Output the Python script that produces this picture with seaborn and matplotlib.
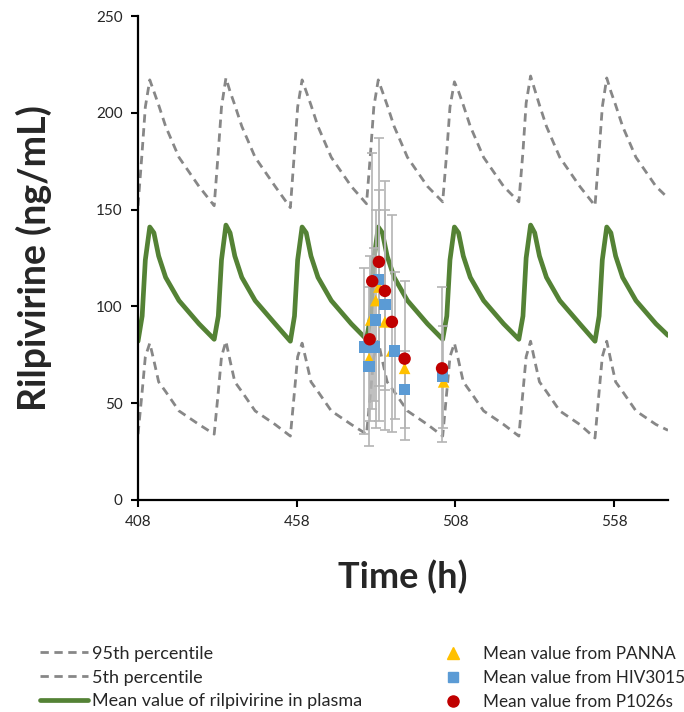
import matplotlib
matplotlib.use('Agg')
import matplotlib.pyplot as plt
import seaborn as sns
from matplotlib.lines import Line2D

# Simulated curves (time in h, concentration in ng/mL), one row per 24 h dosing interval
time_h = [
    408, 409.3, 410.3, 411.7, 413, 414.5, 416.7, 420.9, 427.2,
    432, 433.3, 434.3, 435.7, 437, 438.5, 440.7, 444.9, 451.2,
    456, 457.3, 458.3, 459.7, 461, 462.5, 464.7, 468.9, 475.2,
    480, 481.3, 482.3, 483.7, 485, 486.5, 488.7, 492.9, 499.2,
    504, 505.3, 506.3, 507.7, 509, 510.5, 512.7, 516.9, 523.2,
    528, 529.3, 530.3, 531.7, 533, 534.5, 536.7, 540.9, 547.2,
    552, 553.3, 554.3, 555.7, 557, 558.5, 560.7, 564.9, 571.2,
    575,
]
mean_conc = [
    82, 95, 124, 141, 138, 126, 115, 103, 91,
    83, 95, 124, 142, 138, 126, 115, 103, 91,
    82, 95, 124, 141, 138, 126, 115, 103, 91,
    83, 95, 124, 141, 138, 126, 115, 103, 91,
    83, 95, 124, 141, 138, 126, 115, 103, 91,
    83, 95, 125, 142, 138, 126, 115, 103, 91,
    82, 95, 124, 141, 138, 126, 115, 103, 91,
    85,
]
p95_conc = [
    152, 180, 203, 217, 211, 204, 193, 177, 162,
    152, 180, 203, 218, 211, 204, 193, 177, 162,
    151, 180, 203, 217, 211, 204, 193, 177, 162,
    153, 180, 203, 217, 211, 204, 193, 177, 162,
    154, 180, 203, 216, 211, 204, 193, 177, 162,
    154, 180, 205, 219, 212, 204, 193, 177, 162,
    152, 180, 203, 218, 211, 204, 193, 177, 162,
    156,
]
p5_conc = [
    34, 56, 74, 81, 72, 61, 56, 46, 39,
    34, 56, 74, 82, 72, 61, 56, 46, 39,
    33, 56, 74, 81, 72, 61, 56, 46, 39,
    34, 56, 74, 82, 72, 61, 56, 46, 39,
    33, 56, 74, 81, 72, 61, 56, 46, 39,
    33, 56, 74, 82, 72, 61, 56, 46, 39,
    32, 56, 74, 82, 72, 61, 56, 46, 39,
    36,
]

# Observed means
panna_t = [480.8, 481.3, 482.9, 483.9, 485.8, 487.9, 492.0, 504.3]
panna_c = [73, 93, 103, 110, 92, 77, 68, 61]

hiv_t = [479.3, 480.8, 482.4, 482.9, 483.9, 485.8, 488.9, 492.0, 504.0]
hiv_c = [79, 69, 79, 93, 114, 101, 77, 57, 64]
hiv_lo = [34, 28, 51, 37, 41, 36, 42, 37, 37]
hiv_hi = [120, 110, 130, 150, 187, 165, 118, 77, 90]

p1026_t = [481.0, 481.8, 483.9, 485.8, 488.0, 492.0, 503.8]
p1026_c = [83, 113, 123, 108, 92, 73, 68]
p1026_lo = [41, 47, 59, 57, 35, 31, 30]
p1026_hi = [126, 179, 160, 150, 147, 113, 110]

green = '#548235'
grey_dash = '#878787'
bar_grey = '#b4b4b4'
c_panna = '#ffc000'
c_hiv = '#5b9bd5'
c_p1026 = '#c00000'

sns.set_style('white')
plt.rcParams['font.family'] = ['Lato', 'DejaVu Sans']

fig = plt.figure(figsize=(6.84, 7.12), dpi=100)
ax = fig.add_axes([0.2018, 0.2978, 0.7748, 0.6797])

dash = (0, (3, 2))
sns.lineplot(x=time_h, y=p95_conc, ax=ax, color=grey_dash, lw=2, linestyle=dash, sort=False)
sns.lineplot(x=time_h, y=p5_conc, ax=ax, color=grey_dash, lw=2, linestyle=dash, sort=False)
sns.lineplot(x=time_h, y=mean_conc, ax=ax, color=green, lw=3.4, sort=False)

# error bars (asymmetric, from lower/upper bounds)
for t, c, lo, hi in [(hiv_t, hiv_c, hiv_lo, hiv_hi), (p1026_t, p1026_c, p1026_lo, p1026_hi)]:
    yerr = [[ci - l for ci, l in zip(c, lo)], [h - ci for ci, h in zip(c, hi)]]
    ax.errorbar(t, c, yerr=yerr, fmt='none', ecolor=bar_grey, elinewidth=1.2,
                capsize=3.5, capthick=1.2, zorder=3)

sns.scatterplot(x=panna_t, y=panna_c, ax=ax, marker='^', color=c_panna, s=70,
                edgecolor='none', zorder=4)
sns.scatterplot(x=hiv_t, y=hiv_c, ax=ax, marker='s', color=c_hiv, s=65,
                edgecolor='none', zorder=5)
sns.scatterplot(x=p1026_t, y=p1026_c, ax=ax, marker='o', color=c_p1026, s=80,
                edgecolor='none', zorder=6)

ax.set_xlim(408, 575)
ax.set_ylim(0, 250)
ax.set_xticks([408, 458, 508, 558])
ax.set_yticks([0, 50, 100, 150, 200, 250])
for side in ['top', 'right']:
    ax.spines[side].set_visible(False)
for side in ['left', 'bottom']:
    ax.spines[side].set_color('black')
    ax.spines[side].set_linewidth(1.6)
ax.tick_params(axis='both', direction='out', length=5, width=1.5, color='black',
               labelsize=11, labelcolor='#262626', pad=6, left=True, bottom=True)

ax.set_xlabel('Time (h)', fontsize=26, fontweight='bold', labelpad=22)
ax.set_ylabel('Rilpivirine (ng/mL)', fontsize=27, fontweight='bold', labelpad=32)

# legends
left_handles = [
    Line2D([], [], color=grey_dash, lw=2, linestyle=dash),
    Line2D([], [], color=grey_dash, lw=2, linestyle=dash),
    Line2D([], [], color=green, lw=3.4),
]
left_labels = ['95th percentile', '5th percentile', 'Mean value of rilpivirine in plasma']
fig.legend(left_handles, left_labels, loc='upper left', bbox_to_anchor=(0.058, 0.093),
           frameon=False, fontsize=13, handlelength=2.7, handletextpad=0.2,
           labelspacing=0.43, borderaxespad=0, borderpad=0)
right_handles = [
    Line2D([], [], color=c_panna, marker='^', linestyle='none', markersize=8),
    Line2D([], [], color=c_hiv, marker='s', linestyle='none', markersize=7),
    Line2D([], [], color=c_p1026, marker='o', linestyle='none', markersize=8),
]
right_labels = ['Mean value from PANNA', 'Mean value from HIV3015', 'Mean value from P1026s']
fig.legend(right_handles, right_labels, loc='upper left', bbox_to_anchor=(0.643, 0.093),
           frameon=False, fontsize=12.3, handlelength=1.5, handletextpad=1.0,
           labelspacing=0.47, borderaxespad=0, borderpad=0)

fig.savefig('out.png', dpi=100)
